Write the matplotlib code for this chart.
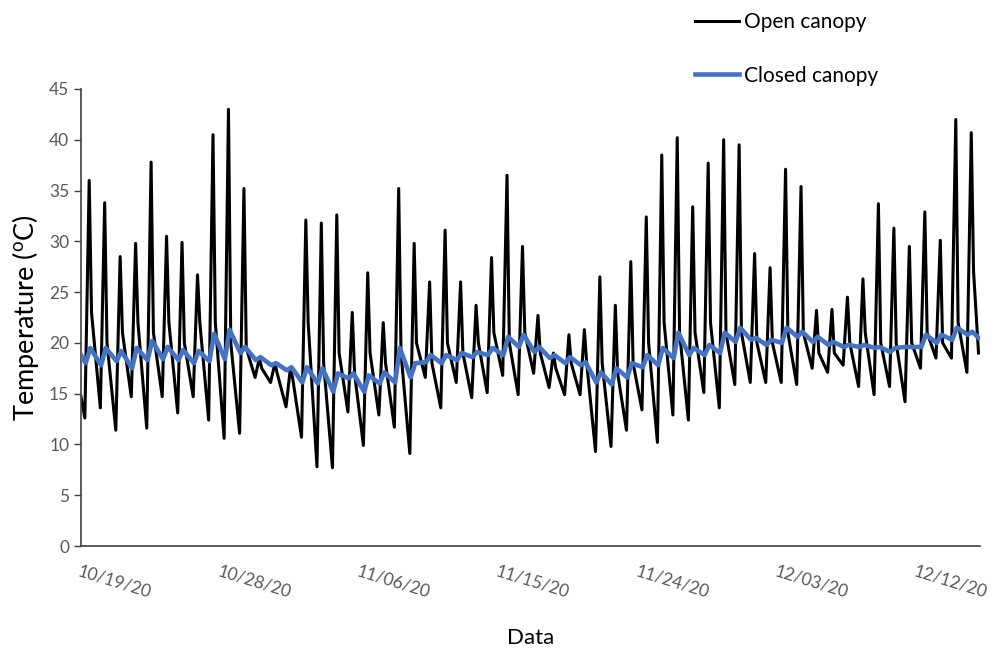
import numpy as np
import pandas as pd
import matplotlib
matplotlib.use("Agg")
import matplotlib.pyplot as plt
import matplotlib.dates as mdates

start = pd.Timestamp("2020-10-19")

# open canopy: daily morning minimum, midday peak, late-afternoon value
open_min = [12.6, 13.6, 11.4, 14.7, 11.6, 14.7, 13.1, 14.7, 12.4, 10.6,
            11.1, 16.6, 16.1, 13.7, 10.7, 7.8, 7.7, 13.2, 9.9, 12.9,
            11.7, 9.1, 16.6, 13.6, 16.1, 14.6, 15.1, 16.8, 14.9, 17.0,
            15.6, 14.9, 14.9, 9.3, 9.8, 11.4, 13.4, 10.2, 12.9, 12.4,
            15.1, 13.6, 15.9, 16.1, 16.1, 16.1, 15.9, 17.5, 17.1, 17.8,
            15.7, 14.9, 15.7, 14.2, 17.5, 18.5, 18.5, 17.1]
open_max = [36.0, 33.8, 28.5, 29.8, 37.8, 30.5, 29.9, 26.7, 40.5, 43.0,
            35.2, 18.5, 18.0, 17.5, 32.1, 31.8, 32.6, 23.0, 26.9, 22.0,
            35.2, 29.8, 26.0, 31.1, 26.0, 23.7, 28.4, 36.5, 29.5, 22.7,
            19.0, 20.8, 21.3, 26.5, 23.7, 28.0, 32.4, 38.5, 40.2, 33.4,
            37.7, 40.0, 39.5, 28.8, 27.4, 37.1, 35.4, 23.2, 23.3, 24.5,
            26.3, 33.7, 31.3, 29.5, 32.9, 30.1, 42.0, 40.7]
open_eve = [23.0, 20.0, 21.0, 22.0, 21.0, 22.0, 20.0, 22.0, 22.0, 20.0,
            19.5, 17.5, 17.0, 16.5, 22.0, 18.0, 19.0, 17.0, 19.0, 18.0,
            19.0, 20.0, 18.0, 20.0, 19.0, 20.0, 21.0, 20.0, 21.0, 19.0,
            17.5, 18.0, 18.0, 18.0, 17.0, 18.0, 20.0, 22.0, 21.0, 21.0,
            22.0, 21.0, 21.0, 20.0, 20.0, 21.0, 21.0, 19.0, 19.0, 20.0,
            21.0, 20.0, 20.0, 20.0, 21.0, 20.0, 22.0, 27.0]
open_first, open_last = 14.7, 19.0

# closed canopy: daily low and high
closed_low = [18.0, 17.8, 18.2, 17.5, 18.3, 18.4, 18.3, 18.0, 18.2, 18.4,
              19.0, 18.3, 17.8, 17.3, 16.1, 16.0, 15.2, 16.5, 15.2, 16.0,
              16.1, 16.6, 18.1, 18.0, 18.3, 18.6, 18.8, 18.8, 19.6, 19.1,
              18.5, 18.0, 17.8, 16.1, 15.9, 16.6, 17.6, 17.8, 18.5, 18.8,
              18.8, 19.0, 20.1, 20.3, 19.8, 20.0, 20.6, 20.1, 19.8, 19.6,
              19.6, 19.5, 19.1, 19.6, 19.6, 20.0, 20.3, 20.8]
closed_high = [19.5, 19.5, 19.2, 19.5, 20.2, 19.6, 19.3, 19.2, 20.9, 21.3,
               19.6, 18.6, 18.0, 17.6, 17.6, 17.5, 17.0, 17.0, 16.8, 17.1,
               19.5, 18.0, 18.8, 18.8, 19.0, 19.1, 19.5, 20.6, 20.8, 19.6,
               18.8, 18.6, 18.1, 17.1, 17.5, 18.0, 18.8, 19.5, 21.0, 19.5,
               19.8, 21.0, 21.5, 20.5, 20.3, 21.5, 21.1, 20.6, 20.1, 19.8,
               19.8, 19.6, 19.5, 19.6, 20.8, 20.8, 21.5, 21.1]
closed_first, closed_last = 18.8, 20.5

tick_dates = ["2020-10-19", "2020-10-28", "2020-11-06", "2020-11-15",
              "2020-11-24", "2020-12-03", "2020-12-12"]

# build time series
ndays = len(open_max)
t_open = [0.0]
v_open = [open_first]
for d in range(ndays):
    t_open += [d + 0.25, d + 0.53, d + 0.68]
    v_open += [open_min[d], open_max[d], open_eve[d]]
t_open.append(58.0)
v_open.append(open_last)

t_closed = [0.0]
v_closed = [closed_first]
for d in range(ndays):
    t_closed += [d + 0.3, d + 0.6]
    v_closed += [closed_low[d], closed_high[d]]
t_closed.append(58.0)
v_closed.append(closed_last)

x_open = [start + pd.Timedelta(days=t) for t in t_open]
x_closed = [start + pd.Timedelta(days=t) for t in t_closed]

plt.rcParams['font.family'] = ['Lato', 'DejaVu Sans']

fig = plt.figure(figsize=(9.95, 6.48), dpi=100)
ax = fig.add_axes([0.0814, 0.1574, 0.9036, 0.7053])

ax.plot(x_open, v_open, color='black', lw=2.2, label='Open canopy', zorder=2)
ax.plot(x_closed, v_closed, color='#4472C4', lw=3.3, label='Closed canopy', zorder=3)

ax.set_ylim(0, 45)
ax.set_yticks(range(0, 46, 5))
ax.set_xlim(start, start + pd.Timedelta(days=58.1))
ax.set_xticks([pd.Timestamp(d) for d in tick_dates])
ax.xaxis.set_major_formatter(mdates.DateFormatter('%m/%d/%y'))

for s in ['top', 'right']:
    ax.spines[s].set_visible(False)
for s in ['left', 'bottom']:
    ax.spines[s].set_color('#404040')
    ax.spines[s].set_linewidth(1.2)

ax.tick_params(axis='y', colors='#404040', labelcolor='#595959', labelsize=12.5,
               length=5, width=1)
ax.tick_params(axis='x', length=0, labelcolor='#595959', labelsize=12.5, pad=12)
for lab in ax.get_xticklabels():
    lab.set_rotation(-17)
    lab.set_ha('left')
    lab.set_va('top')
    lab.set_rotation_mode('anchor')

ax.set_ylabel('Temperature ($\\mathregular{^{o}}$C)', fontsize=19.5, labelpad=6)
ax.set_xlabel('Data', fontsize=16, labelpad=20)

fig.legend(loc='upper left', bbox_to_anchor=(0.680, 1.01), frameon=False,
           fontsize=15, handlelength=2.1, handletextpad=0.25, labelspacing=1.6)

fig.savefig('out.png', dpi=100)
